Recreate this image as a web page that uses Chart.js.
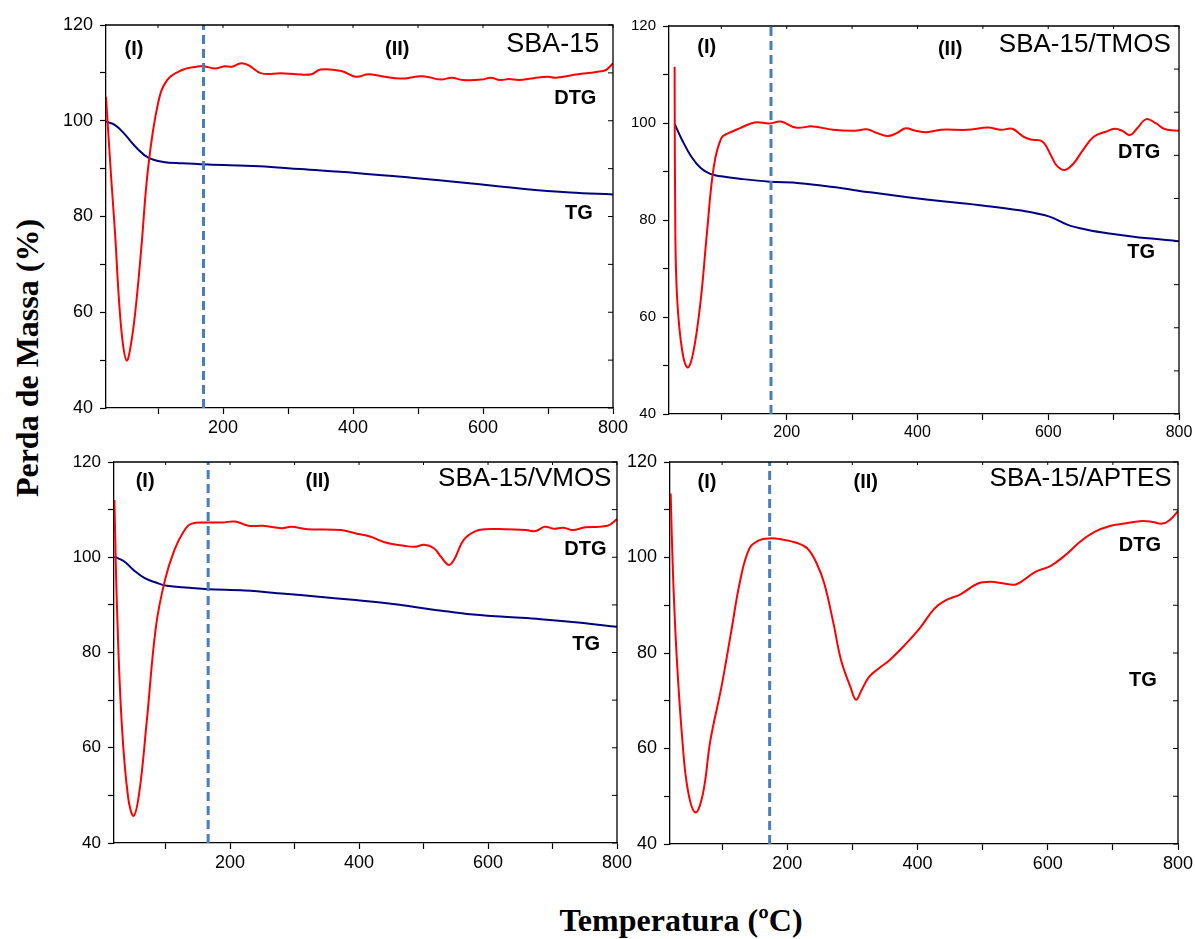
<!DOCTYPE html>
<html>
<head>
<meta charset="utf-8">
<script src="https://cdn.jsdelivr.net/npm/chart.js@4.4.0/dist/chart.umd.min.js"></script>
<style>
  html, body { margin: 0; padding: 0; background: #fff; overflow: hidden; }
  #wrap { position: relative; width: 1195px; height: 939px; }
  #wrap canvas { position: absolute; }
  .ytitle {
    position: absolute; left: 27px; top: 358px;
    transform: translate(-50%, -50%) rotate(-90deg);
    font: bold 32px "Liberation Serif", "Times New Roman", serif;
    white-space: nowrap;
  }
  .xtitle {
    position: absolute; left: 681px; top: 920px;
    transform: translate(-50%, -50%);
    font: bold 32px "Liberation Serif", "Times New Roman", serif;
    white-space: nowrap;
  }
</style>
</head>
<body>
<div id="wrap">
  <canvas id="c1"></canvas>
  <canvas id="c2"></canvas>
  <canvas id="c3"></canvas>
  <canvas id="c4"></canvas>
  <div class="ytitle">Perda de Massa (%)</div>
  <div class="xtitle">Temperatura (ºC)</div>
</div>
<script>
// ---- Ejes ----
const xTicks = [100, 200, 300, 400, 500, 600, 700, 800];
const xLabels = [200, 400, 600, 800];
const yTicks = [40, 50, 60, 70, 80, 90, 100, 110, 120];
const yLabels = [40, 60, 80, 100, 120];
const tmosRightTicks = [0, 1, 2, 3, 4, 5, 6, 7, 8, 9];

// línea divisoria (I)/(II) en cada panel, en ºC
const dividers = [170, 176, 166, 173];

// ---- SBA-15 ----
const sba15DtgT = [20, 28, 34, 40, 46, 52, 58, 65, 74, 85, 100, 114, 137, 160, 171, 188, 202, 214, 228, 239, 259, 290, 313, 336, 350, 382, 404, 424, 444, 473, 507, 535, 552, 569, 598, 612, 626, 640, 655, 678, 700, 712, 746, 774, 789, 800];
const sba15DtgV = [105, 88, 76.4, 62.5, 53.4, 49.9, 53, 60, 72.9, 90.4, 103.6, 108.5, 110.6, 111.3, 111.4, 110.9, 111.4, 111.3, 112, 111.6, 109.9, 109.9, 109.7, 109.7, 110.7, 110.4, 109.2, 109.7, 109.3, 108.8, 109.3, 108.6, 109, 108.5, 108.6, 109, 108.5, 108.7, 108.5, 108.9, 109.2, 109, 109.7, 110.2, 110.6, 112];
const sba15TgT = [20, 34, 48, 68, 85, 108, 137, 177, 256, 319, 404, 490, 575, 660, 734, 800];
const sba15TgV = [99.8, 99.1, 97.3, 94.2, 92.3, 91.4, 91.1, 90.85, 90.5, 89.9, 89.1, 88.1, 87, 85.8, 85, 84.6];

// ---- SBA-15/TMOS ----
const tmosDtgT = [28.6, 29.7, 32.6, 40, 48.5, 57, 68.5, 78, 88.5, 100, 111, 128, 151, 174, 191, 214, 240, 271, 305, 322, 337, 354, 368, 382, 397, 414, 436, 476, 508, 528, 545, 562, 573, 591, 605, 613, 625, 639, 653, 670, 688, 702, 713, 725, 736, 750, 765, 779, 800];
const tmosDtgV = [111.6, 77.3, 63.5, 53.2, 49.6, 52.6, 63.5, 77.3, 91, 96.9, 97.9, 98.9, 100.1, 99.9, 100.3, 99.05, 99.3, 98.6, 98.4, 98.7, 98, 97.3, 97.9, 98.9, 98.4, 98.1, 98.6, 98.6, 99.05, 98.6, 98.8, 97.2, 96.6, 96.2, 93.1, 91.2, 90.3, 91.7, 94.4, 97.2, 98.2, 98.8, 98.4, 97.5, 98.9, 100.8, 99.9, 98.7, 98.4];
const tmosTgT = [28.6, 40, 54, 68.5, 83, 100, 128, 174, 220, 271, 328, 385, 442, 499, 556, 602, 630, 659, 699, 739, 773, 800];
const tmosTgV = [99.8, 96.5, 93.1, 90.7, 89.5, 89, 88.5, 87.9, 87.6, 86.8, 85.7, 84.7, 83.8, 83, 82, 80.7, 79, 78, 77.1, 76.4, 76, 75.6];

// ---- SBA-15/VMOS ----
const vmosDtgT = [20.6, 24.6, 32, 41.8, 50.4, 59, 70.5, 85, 99, 113.6, 128, 139.5, 165, 188, 208, 228.5, 251.5, 280, 294.6, 320, 372, 395, 418, 441, 470, 487, 501, 516, 527, 539, 547, 562, 579, 596, 625, 659, 674, 688, 702, 717, 731, 751, 785, 800];
const vmosDtgV = [112, 89.6, 65.1, 49.7, 45.7, 50.4, 65.1, 85.4, 95.2, 101.5, 105.4, 107, 107.3, 107.3, 107.5, 106.6, 106.6, 106.1, 106.4, 105.9, 105.7, 105, 104.3, 103.1, 102.4, 102.2, 102.6, 101.9, 100.1, 98.4, 99.4, 103.6, 105.4, 105.9, 105.9, 105.7, 105.5, 106.4, 106, 106.2, 105.7, 106.3, 106.6, 108];
const vmosTgT = [20.6, 36, 50.4, 67.7, 85, 102, 136.6, 165, 222.8, 280, 337.6, 395, 452.5, 510, 538.7, 567.4, 624.8, 682, 739.7, 800];
const vmosTgV = [100.1, 99.1, 97.3, 95.6, 94.7, 94, 93.6, 93.3, 93, 92.4, 91.7, 91, 90.2, 89.1, 88.6, 88.1, 87.5, 87, 86.3, 85.4];

// ---- SBA-15/APTES (sin curva TG visible) ----
const aptesDtgT = [21, 24.6, 30.3, 39, 47.5, 59, 70.5, 82, 99, 113.5, 127.8, 142, 156.5, 173.7, 191, 213.8, 231, 245.4, 257, 271, 282.7, 297, 305.6, 314, 325.7, 340, 357, 380, 403, 426, 443, 466, 492, 512, 535, 552, 581, 604, 627, 649.7, 672.6, 695.6, 718.5, 741.5, 758.7, 775.9, 787, 800];
const aptesDtgV = [113.4, 96.6, 79.2, 61.7, 51.2, 46.6, 50.5, 61.7, 72.9, 84.1, 95.2, 101.9, 103.6, 104, 103.8, 103.1, 101.9, 98.7, 94.5, 86.2, 78.5, 72.9, 70.2, 72.2, 75, 76.7, 78.5, 81.6, 85.1, 89.3, 91, 92.3, 94.5, 94.9, 94.5, 94.4, 97, 98.2, 100.5, 103.3, 105.4, 106.6, 107.1, 107.6, 107.5, 107.1, 107.8, 109.7];
const aptesTgT = [];
const aptesTgV = [];

const SANS = '"Liberation Sans", Arial, Helvetica, sans-serif';
const RED = '#ff0000';
const NAVY = '#000080';
const DASH_BLUE = '#4a7ebb';

const pad = { left: 5, top: 15, right: 22, bottom: 5 };
const yW = 50;
const xH = 30;

function notes(t1, t2, title, dtg, tg) {
  return [
    { text: '(I)', x: t1[0], y: t1[1], size: 20, bold: true, align: 'center' },
    { text: '(II)', x: t2[0], y: t2[1], size: 20, bold: true, align: 'center' },
    { text: title[2], x: title[0], y: title[1], size: title[3], bold: false, align: 'right' },
    { text: 'DTG', x: dtg[0], y: dtg[1], size: 20, bold: true, align: 'center' },
    { text: 'TG', x: tg[0], y: tg[1], size: 20, bold: true, align: 'center' }
  ];
}

const panels = [
  { id: 'c1', plot: { left: 106, top: 25, right: 613, bottom: 408 }, xFont: 18, yFont: 18,
    divider: dividers[0], dtgT: sba15DtgT, dtgV: sba15DtgV, tgT: sba15TgT, tgV: sba15TgV,
    notes: notes([63, 114.8], [468, 114.8], [779, 116, 'SBA-15', 27], [742, 104.6], [747.6, 80.7]) },
  { id: 'c2', plot: { left: 669, top: 26, right: 1179, bottom: 414 }, xFont: 16, yFont: 15,
    divider: dividers[1], dtgT: tmosDtgT, dtgV: tmosDtgV, tgT: tmosTgT, tgV: tmosTgV, rightTicks: tmosRightTicks,
    notes: notes([77.6, 115.5], [450, 115.2], [787.4, 116.2, 'SBA-15/TMOS', 26], [739, 94], [742, 73.2]) },
  { id: 'c3', plot: { left: 114, top: 462, right: 617, bottom: 843 }, xFont: 18, yFont: 17,
    divider: dividers[2], dtgT: vmosDtgT, dtgV: vmosDtgV, tgT: vmosTgT, tgV: vmosTgV,
    notes: notes([68.3, 115.9], [336, 115.9], [791.4, 116.4, 'SBA-15/VMOS', 26], [751, 101.7], [752, 81.7]) },
  { id: 'c4', plot: { left: 670, top: 462, right: 1178, bottom: 844 }, xFont: 18, yFont: 18,
    divider: dividers[3], dtgT: aptesDtgT, dtgV: aptesDtgV, tgT: aptesTgT, tgV: aptesTgV,
    notes: notes([76.8, 115.8], [320.5, 115.8], [790.2, 116.4, 'SBA-15/APTES', 26], [741.5, 102.6], [746, 74.3]) }
];

// marco superior/derecho con ticks interiores y textos dentro del gráfico
const framePlugin = {
  id: 'frame',
  afterDraw(chart, args, opts) {
    const { ctx, chartArea: a, scales } = chart;
    ctx.save();
    ctx.strokeStyle = '#000';
    ctx.lineWidth = 1.3;
    ctx.beginPath();
    ctx.moveTo(a.left, a.top);
    ctx.lineTo(a.right, a.top);
    ctx.lineTo(a.right, a.bottom);
    ctx.stroke();

    ctx.lineWidth = 1;
    ctx.beginPath();
    scales.x.ticks.forEach(t => {
      const px = scales.x.getPixelForValue(t.value);
      ctx.moveTo(px, a.top);
      ctx.lineTo(px, a.top + 3);
    });
    const r = scales.y2 || scales.y;
    r.ticks.forEach(t => {
      const py = r.getPixelForValue(t.value);
      ctx.moveTo(a.right, py);
      ctx.lineTo(a.right - 5, py);
    });
    ctx.stroke();

    ctx.fillStyle = '#000';
    ctx.textBaseline = 'middle';
    (opts.notes || []).forEach(n => {
      ctx.font = (n.bold ? 'bold ' : '') + n.size + 'px ' + SANS;
      ctx.textAlign = n.align;
      ctx.fillText(n.text, scales.x.getPixelForValue(n.x), scales.y.getPixelForValue(n.y));
    });
    ctx.restore();
  }
};

function pairs(ts, vs) {
  return ts.map((t, i) => ({ x: t, y: vs[i] }));
}

function makeChart(p) {
  const el = document.getElementById(p.id);
  const w = (p.plot.right - p.plot.left) + yW + pad.left + pad.right;
  const h = (p.plot.bottom - p.plot.top) + pad.top + xH + pad.bottom;
  el.width = w;
  el.height = h;
  el.style.width = w + 'px';
  el.style.height = h + 'px';
  el.style.left = (p.plot.left - yW - pad.left) + 'px';
  el.style.top = (p.plot.top - pad.top) + 'px';

  const scales = {
    x: {
      type: 'linear', min: 20, max: 800,
      afterBuildTicks: s => { s.ticks = xTicks.map(v => ({ value: v })); },
      afterFit: s => { s.height = xH; s.paddingLeft = 0; s.paddingRight = 0; },
      grid: { drawOnChartArea: false, drawTicks: true, tickLength: 6, tickColor: '#000', tickWidth: 1.2 },
      border: { display: true, color: '#000', width: 1.3 },
      ticks: {
        autoSkip: false, maxRotation: 0, padding: 3, color: '#000',
        font: { family: SANS, size: p.xFont },
        callback: v => xLabels.includes(v) ? String(v) : ''
      }
    },
    y: {
      type: 'linear', position: 'left', min: 40, max: 120,
      afterBuildTicks: s => { s.ticks = yTicks.map(v => ({ value: v })); },
      afterFit: s => { s.width = yW; s.paddingTop = 0; s.paddingBottom = 0; },
      grid: { drawOnChartArea: false, drawTicks: true, tickLength: 6, tickColor: '#000', tickWidth: 1.2 },
      border: { display: true, color: '#000', width: 1.3 },
      ticks: {
        autoSkip: false, padding: 7, color: '#000',
        font: { family: SANS, size: p.yFont },
        callback: v => yLabels.includes(v) ? String(v) : ''
      }
    }
  };
  if (p.rightTicks) {
    scales.y2 = {
      type: 'linear', position: 'right', min: 0, max: 9,
      afterBuildTicks: s => { s.ticks = p.rightTicks.map(v => ({ value: v })); },
      afterFit: s => { s.width = 0; s.paddingTop = 0; s.paddingBottom = 0; },
      grid: { display: false }, border: { display: false }, ticks: { display: false }
    };
  }

  const datasets = [
    {
      label: 'div', data: [{ x: p.divider, y: 40 }, { x: p.divider, y: 120 }],
      borderColor: DASH_BLUE, borderWidth: 3, borderDash: [9, 5], pointRadius: 0, tension: 0
    },
    {
      label: 'DTG', data: pairs(p.dtgT, p.dtgV),
      borderColor: RED, borderWidth: 2, pointRadius: 0, tension: 0.4
    },
    {
      label: 'TG', data: pairs(p.tgT, p.tgV),
      borderColor: NAVY, borderWidth: 2, pointRadius: 0, tension: 0.4
    }
  ];

  return new Chart(el.getContext('2d'), {
    type: 'line',
    data: { datasets },
    options: {
      responsive: false,
      animation: false,
      devicePixelRatio: 1,
      layout: { padding: pad },
      scales,
      plugins: {
        legend: { display: false },
        tooltip: { enabled: false },
        frame: { notes: p.notes }
      }
    },
    plugins: [framePlugin]
  });
}

panels.forEach(makeChart);
</script>
</body>
</html>
